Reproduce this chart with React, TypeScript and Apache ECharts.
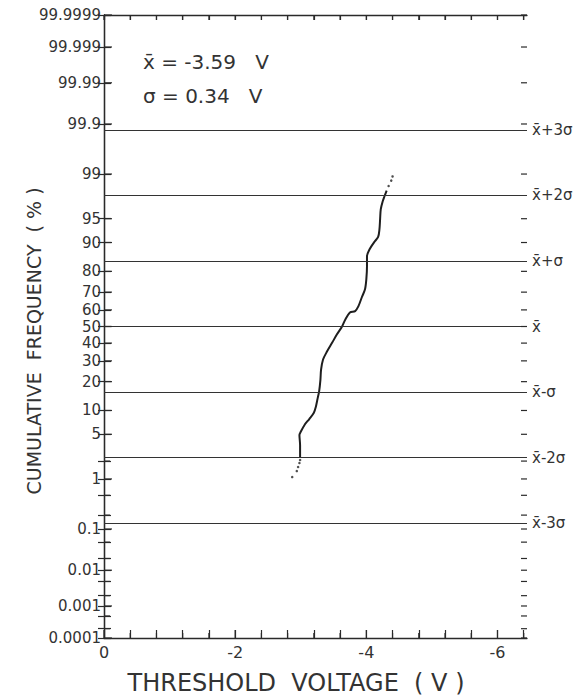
import React, { useEffect, useRef } from "react";
import * as echarts from "echarts";

// Measured points (threshold voltage in V, cumulative frequency in %)
const CURVE_V = [-2.99, -2.99, -2.98, -3.0, -3.06, -3.13, -3.2, -3.23, -3.26, -3.28, -3.3, -3.31, -3.34, -3.4, -3.48, -3.55, -3.63, -3.68, -3.75, -3.83, -3.88, -3.93, -3.98, -4.0, -4.01, -4.01, -4.05, -4.12, -4.18, -4.2, -4.21, -4.22, -4.25, -4.28, -4.31];
const CURVE_P = [2.3, 3.5, 4.9, 5.4, 6.7, 7.9, 9.4, 11.0, 13.9, 16.0, 20.8, 25.5, 30.7, 35.1, 40.3, 45.1, 50.0, 54.3, 58.5, 59.3, 62.2, 67.1, 71.5, 76.4, 82.1, 85.8, 88.1, 90.1, 91.4, 93.1, 94.9, 96.3, 97.2, 97.7, 98.1];
const LOW_TAIL_V = [-2.87, -2.94, -2.96, -2.98, -2.99];
const LOW_TAIL_P = [1.08, 1.37, 1.6, 1.86, 2.08];
const HIGH_TAIL_V = [-4.34, -4.38, -4.4];
const HIGH_TAIL_P = [98.4, 98.7, 98.9];

// Probability-axis ticks
const Y_LABELS = ["0.0001", "0.001", "0.01", "0.1", "1", "5", "10", "20", "30", "40", "50", "60", "70", "80", "90", "95", "99", "99.9", "99.99", "99.999", "99.9999"];
const Y_MINOR = [0.0002, 0.0005, 0.002, 0.005, 0.02, 0.05, 0.2, 0.5, 2];

// Sigma reference lines (in standard-normal units)
const SIGMA_LEVELS = [-3, -2, -1, 0, 1, 2, 3];
const SIGMA_LABELS = ["x̄-3σ", "x̄-2σ", "x̄-σ", "x̄", "x̄+σ", "x̄+2σ", "x̄+3σ"];

// Voltage axis ticks
const X_MAJOR = [0, -2, -4, -6];
const X_MINOR = [-0.4, -0.8, -1.2, -1.6, -2.4, -2.8, -3.2, -3.6, -4.4, -4.8, -5.2, -5.6, -6.4];
const X_MIN = -6.45;

const MEAN_TEXT = "x̄ = -3.59   V";
const SIGMA_TEXT = "σ = 0.34   V";

function probit(p: number): number {
  const a = [-39.69683028665376, 220.9460984245205, -275.9285104469687, 138.357751867269, -30.66479806614716, 2.506628277459239];
  const b = [-54.47609879822406, 161.5858368580409, -155.6989798598866, 66.80131188771972, -13.28068155288572];
  const c = [-0.007784894002430293, -0.3223964580411365, -2.400758277161838, -2.549671348416644, 4.374664141464968, 2.938163982698783];
  const d = [0.007784695709041462, 0.3224671290700398, 2.445134137142996, 3.754408661907416];
  const pl = 0.02425;
  const ph = 1 - pl;
  if (p < pl) {
    const q = Math.sqrt(-2 * Math.log(p));
    return (((((c[0] * q + c[1]) * q + c[2]) * q + c[3]) * q + c[4]) * q + c[5]) / ((((d[0] * q + d[1]) * q + d[2]) * q + d[3]) * q + 1);
  }
  if (p <= ph) {
    const q = p - 0.5;
    const r = q * q;
    return ((((((a[0] * r + a[1]) * r + a[2]) * r + a[3]) * r + a[4]) * r + a[5]) * q) / (((((b[0] * r + b[1]) * r + b[2]) * r + b[3]) * r + b[4]) * r + 1);
  }
  const q = Math.sqrt(-2 * Math.log(1 - p));
  return -(((((c[0] * q + c[1]) * q + c[2]) * q + c[3]) * q + c[4]) * q + c[5]) / ((((d[0] * q + d[1]) * q + d[2]) * q + d[3]) * q + 1);
}

const zOf = (pct: number) => probit(pct / 100);

const W = 579;
const H = 699;
const GRID = { left: 104, right: 52, top: 15, bottom: 61 };

export default function App() {
  const ref = useRef<HTMLDivElement>(null);
  useEffect(() => {
    if (!ref.current) return;
    const chart = echarts.init(ref.current, undefined, { renderer: "svg" });
    const font = "DejaVu Sans";
    const ink = "#2a2a2a";
    const yLabelZ = Y_LABELS.map((s) => zOf(parseFloat(s)));
    const yMinorZ = Y_MINOR.map(zOf);
    const yMin = yLabelZ[0];
    const yMax = yLabelZ[yLabelZ.length - 1];
    const nearestLabel = (v: number, zs: number[], labels: string[]) => {
      let best = 0;
      for (let i = 1; i < zs.length; i++) if (Math.abs(zs[i] - v) < Math.abs(zs[best] - v)) best = i;
      return Math.abs(zs[best] - v) < 1e-6 ? labels[best] : "";
    };
    const curve = CURVE_V.map((v, i) => [v, zOf(CURVE_P[i])]);
    const tails = LOW_TAIL_V.map((v, i) => [v, zOf(LOW_TAIL_P[i])]).concat(HIGH_TAIL_V.map((v, i) => [v, zOf(HIGH_TAIL_P[i])]));

    const commonX = { type: "value", min: X_MIN, max: 0, inverse: true, splitLine: { show: false } };
    const commonY = { type: "value", min: yMin, max: yMax, splitLine: { show: false } };

    const texts: any[] = [
      { type: "text", x: 143, y: 62, style: { text: MEAN_TEXT, fontFamily: font, fontSize: 20, fill: "#333", verticalAlign: "middle" } },
      { type: "text", x: 143, y: 96, style: { text: SIGMA_TEXT, fontFamily: font, fontSize: 20, fill: "#333", verticalAlign: "middle" } },
      { type: "text", x: 296, y: 683, style: { text: "THRESHOLD  VOLTAGE  ( V )", fontFamily: font, fontSize: 24, fill: "#333", align: "center", verticalAlign: "middle" } },
      { type: "text", x: 34, y: 341, rotation: Math.PI / 2, style: { text: "CUMULATIVE  FREQUENCY  ( % )", fontFamily: font, fontSize: 19, fill: "#333", align: "center", verticalAlign: "middle" } },
    ];

    chart.setOption({
      animation: false,
      backgroundColor: "#ffffff",
      grid: { ...GRID, containLabel: false },
      xAxis: [
        {
          ...commonX,
          position: "bottom",
          axisLine: { show: true, onZero: false, lineStyle: { color: ink, width: 1.3 } },
          axisTick: { show: true, inside: true, length: 8, customValues: X_MAJOR.concat(X_MINOR), lineStyle: { color: ink, width: 1.2 } },
          axisLabel: { show: true, customValues: X_MAJOR, margin: 6, fontFamily: font, fontSize: 16, color: "#333", formatter: (v: number) => (v === 0 ? "0" : String(v)) },
        },
        {
          ...commonX,
          position: "top",
          axisLine: { show: true, onZero: false, lineStyle: { color: ink, width: 1.3 } },
          axisTick: { show: true, inside: true, length: 5, customValues: X_MAJOR.concat(X_MINOR), lineStyle: { color: ink, width: 1.2 } },
          axisLabel: { show: false },
        },
      ],
      yAxis: [
        {
          ...commonY,
          position: "left",
          axisLine: { show: true, lineStyle: { color: ink, width: 1.3 } },
          axisTick: { show: true, inside: true, length: 7, customValues: yLabelZ.concat(yMinorZ), lineStyle: { color: ink, width: 1.2 } },
          axisLabel: { show: true, customValues: yLabelZ, margin: 3, fontFamily: font, fontSize: 15, color: "#333", formatter: (v: number) => nearestLabel(v, yLabelZ, Y_LABELS) },
        },
        {
          ...commonY,
          position: "right",
          axisLine: { show: true, lineStyle: { color: ink, width: 1.3 } },
          axisTick: { show: true, inside: true, length: 6, customValues: yLabelZ.concat(yMinorZ), lineStyle: { color: ink, width: 1.2 } },
          axisLabel: { show: true, customValues: SIGMA_LEVELS, margin: 5, fontFamily: font, fontSize: 15, color: "#333", formatter: (v: number) => nearestLabel(v, SIGMA_LEVELS, SIGMA_LABELS) },
        },
      ],
      series: [
        {
          type: "line",
          xAxisIndex: 0,
          yAxisIndex: 0,
          data: curve,
          showSymbol: false,
          smooth: 0.3,
          lineStyle: { color: "#1e1e1e", width: 2 },
          markLine: {
            silent: true,
            symbol: ["none", "none"],
            label: { show: false },
            lineStyle: { color: "#333", width: 1.2, type: "solid" },
            data: SIGMA_LEVELS.map((k) => ({ yAxis: k })),
          },
        },
        {
          type: "scatter",
          xAxisIndex: 0,
          yAxisIndex: 0,
          data: tails,
          symbolSize: 2.5,
          itemStyle: { color: "#222" },
        },
      ],
      graphic: { elements: texts },
    });

    // Tick marks as thin filled rectangles, positioned along each axis by that axis's own scale
    const leftPx = GRID.left;
    const rightPx = W - GRID.right;
    const topPx = GRID.top;
    const bottomPx = H - GRID.bottom;
    const yPx = (z: number) => Number(chart.convertToPixel({ yAxisIndex: 0 }, z));
    const xPx = (v: number) => Number(chart.convertToPixel({ xAxisIndex: 0 }, v));
    const rects: any[] = [];
    const hTick = (x: number, y: number, len: number) => {
      if (!isFinite(y)) return;
      rects.push({ type: "rect", z: 60, silent: true, shape: { x: len > 0 ? x : x + len, y: y - 0.6, width: Math.abs(len), height: 1.2 }, style: { fill: ink } });
    };
    const vTick = (x: number, y: number, len: number) => {
      if (!isFinite(x)) return;
      rects.push({ type: "rect", z: 60, silent: true, shape: { x: x - 0.6, y: len > 0 ? y : y + len, width: 1.2, height: Math.abs(len) }, style: { fill: ink } });
    };
    yLabelZ.forEach((z) => hTick(leftPx, yPx(z), 8));
    yMinorZ.forEach((z) => hTick(leftPx, yPx(z), 6));
    yLabelZ.concat(yMinorZ).forEach((z) => hTick(rightPx, yPx(z), -6));
    X_MAJOR.forEach((v) => vTick(xPx(v), bottomPx, -8));
    X_MINOR.forEach((v) => vTick(xPx(v), bottomPx, -5));
    X_MAJOR.concat(X_MINOR).forEach((v) => vTick(xPx(v), topPx, 5));

    chart.setOption({ graphic: { elements: texts.concat(rects) } });
    return () => chart.dispose();
  }, []);
  return <div ref={ref} style={{ position: "absolute", left: 0, top: 0, width: W, height: H, background: "#fff" }} />;
}
